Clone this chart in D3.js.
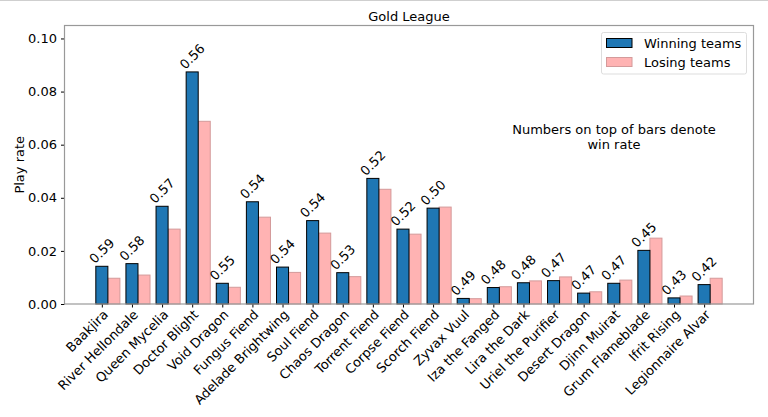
<!DOCTYPE html>
<html><head><meta charset="utf-8">
<script src="https://cdn.jsdelivr.net/npm/d3@7/dist/d3.min.js"></script>
<style>body{margin:0;background:#fff}svg{display:block;font-family:"DejaVu Sans",sans-serif}</style>
</head><body>
<svg id="c" width="768" height="417"></svg>
<script>
const categories = ["Baakjira","River Hellondale","Queen Mycelia","Doctor Blight","Void Dragon","Fungus Fiend","Adelade Brightwing","Soul Fiend","Chaos Dragon","Torrent Fiend","Corpse Fiend","Scorch Fiend","Zyvax Vuul","Iza the Fanged","Lira the Dark","Uriel the Purifier","Desert Dragon","Djinn Muirat","Grum Flameblade","Ifrit Rising","Legionnaire Alvar"];
const winning = [0.0142,0.0152,0.0368,0.0874,0.0078,0.0385,0.0139,0.0314,0.0118,0.0473,0.0282,0.0361,0.0021,0.0062,0.0080,0.0088,0.0041,0.0078,0.0202,0.0023,0.0073];
const losing  = [0.0097,0.0109,0.0282,0.0688,0.0063,0.0327,0.0119,0.0267,0.0103,0.0432,0.0263,0.0365,0.0020,0.0065,0.0087,0.0102,0.0046,0.0090,0.0248,0.0030,0.0097];
const winRates = ["0.59","0.58","0.57","0.56","0.55","0.54","0.54","0.54","0.53","0.52","0.52","0.50","0.49","0.48","0.48","0.47","0.47","0.47","0.45","0.43","0.42"];
const yTicks = [0,0.02,0.04,0.06,0.08,0.10];
const title = "Gold League";
const yLabel = "Play rate";
const noteLines = ["Numbers on top of bars denote","win rate"];
const seriesNames = ["Winning teams","Losing teams"];

const svg = d3.select("#c");
const L = 64.5, R = 753.5, T = 25.5, B = 304;
const bw = 0.4;
const x = d3.scaleLinear().domain([-1.24, 21.64]).range([L, R]);
const y = d3.scaleLinear().domain([0, d3.max(winning) * 1.2]).range([B, T]);

// top border of image
svg.append("line").attr("x1",0).attr("x2",768).attr("y1",0.5).attr("y2",0.5).attr("stroke","#cfcfcf");

const idx = d3.range(categories.length);
// losing bars
svg.append("g").selectAll("rect").data(idx).join("rect")
  .attr("x", i => x(i + bw/2)).attr("width", x(bw) - x(0))
  .attr("y", i => y(losing[i])).attr("height", i => y(0) - y(losing[i]))
  .attr("fill", "#ffb3b3").attr("stroke", "#d49a9a").attr("stroke-width", 1);
// winning bars
svg.append("g").selectAll("rect").data(idx).join("rect")
  .attr("x", i => x(i - bw/2)).attr("width", x(bw) - x(0))
  .attr("y", i => y(winning[i])).attr("height", i => y(0) - y(winning[i]))
  .attr("fill", "#1f77b4").attr("stroke", "#000").attr("stroke-width", 1);

// value labels
svg.append("g").selectAll("text").data(idx).join("text")
  .attr("transform", i => `translate(${x(i - bw/2) - 1},${y(winning[i]) - 2}) rotate(-45)`)
  .attr("font-size", 13).attr("fill", "#000").text(i => winRates[i]);

// axes
const yAxis = d3.axisLeft(y).tickValues(yTicks).tickFormat(d3.format(".2f")).tickSizeOuter(0).tickSize(3.5).tickPadding(4);
const gy = svg.append("g").attr("transform", `translate(${L},0)`).call(yAxis);
gy.select(".domain").remove();
gy.selectAll("text").attr("font-size", 13).attr("font-family", "DejaVu Sans").attr("fill", "#000");
gy.selectAll("line").attr("stroke", "#000");

const xAxis = d3.axisBottom(x).tickValues(idx).tickFormat(i => categories[i]).tickSize(3.5).tickSizeOuter(0);
const gx = svg.append("g").attr("transform", `translate(0,${B})`).call(xAxis);
gx.select(".domain").remove();
gx.selectAll("line").attr("stroke", "#000");
gx.selectAll("text").attr("font-size", 13).attr("font-family", "DejaVu Sans").attr("fill", "#000")
  .attr("text-anchor", "end").attr("dy", null).attr("y", null)
  .attr("transform", "translate(4,9) rotate(-45)").attr("dominant-baseline", "middle");

// spines
svg.append("rect").attr("x", L).attr("y", T).attr("width", R - L).attr("height", B - T)
  .attr("fill", "none").attr("stroke", "#999").attr("stroke-width", 1.2);

// title
svg.append("text").attr("x", (L + R) / 2).attr("y", 21).attr("text-anchor", "middle")
  .attr("font-size", 13).text(title);
// y label
svg.append("text").attr("transform", `translate(24,${(T + B) / 2}) rotate(-90)`)
  .attr("text-anchor", "middle").attr("font-size", 13).text(yLabel);
// note
svg.append("g").selectAll("text").data(noteLines).join("text")
  .attr("x", 614).attr("y", (d, i) => 134 + i * 15).attr("text-anchor", "middle")
  .attr("font-size", 13).text(d => d);

// legend
const lg = svg.append("g");
lg.append("rect").attr("x", 601.5).attr("y", 32.5).attr("width", 145).attr("height", 41.5)
  .attr("rx", 2).attr("fill", "#fff").attr("stroke", "#ddd");
const legColors = [["#1f77b4","#000"],["#ffb3b3","#d49a9a"]];
seriesNames.forEach((n, i) => {
  lg.append("rect").attr("x", 606.5).attr("y", 38.5 + i * 19).attr("width", 25.5).attr("height", 9)
    .attr("fill", legColors[i][0]).attr("stroke", legColors[i][1]);
  lg.append("text").attr("x", 644).attr("y", 48 + i * 19).attr("font-size", 13).text(n);
});
</script>
</body></html>
